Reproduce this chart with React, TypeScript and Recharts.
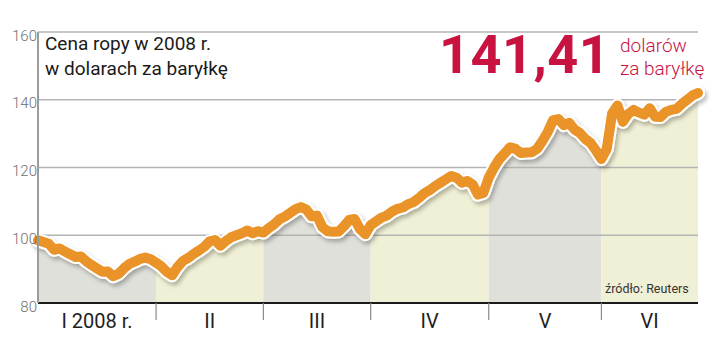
import {
  Area,
  ComposedChart,
  Line,
  ReferenceLine,
  XAxis,
  YAxis,
} from "recharts"

/* ---------- data (daily close, USD/bbl) ---------- */
const jan = [98.5, 98.0, 97.5, 95.7, 96.1, 95.2, 94.4, 93.6, 93.7, 92.3, 91.2, 90.2, 89.2, 89.3, 87.9, 88.6, 90.2, 91.5, 92.2, 93.0, 93.4, 92.9]
const feb = [91.9, 90.8, 89.2, 88.2, 90.6, 92.4, 93.3, 94.5, 95.5, 96.6, 98.2, 98.6, 96.9, 98.3, 99.4, 100.0, 100.6, 101.4, 100.6, 101.2]
const mar = [100.8, 102.1, 103.2, 104.7, 105.5, 106.6, 107.7, 108.3, 107.6, 105.6, 105.8, 102.4, 101.2, 101.0, 101.1, 102.6, 104.5, 104.8, 101.8, 100.3]
const apr = [103.0, 104.1, 105.2, 105.8, 107.0, 107.8, 108.2, 109.2, 109.8, 111.0, 112.4, 113.3, 114.5, 115.5, 116.5, 117.5, 117.0, 115.5, 116.0, 115.0, 112.0, 112.5]
const may = [117.0, 120.0, 122.5, 124.2, 126.0, 125.5, 124.3, 124.4, 124.5, 125.5, 127.8, 130.5, 134.0, 134.3, 132.5, 133.2, 131.2, 130.2, 128.4, 127.2, 125.0]
const jun = [122.5, 125.5, 136.0, 138.3, 133.5, 135.8, 137.0, 136.2, 135.6, 137.5, 135.0, 134.9, 136.4, 137.0, 137.3, 138.8, 140.0, 141.3, 142.0]

const months = [jan, feb, mar, apr, may, jun]
const monthLabels = ["I 2008 r.", "II", "III", "IV", "V", "VI"]
const yTicks = [80, 100, 120, 140, 160]
const gridLines = [100, 120, 140, 160]

const bandColors = ["#dfe0da", "#f0f0d6"]
const ORANGE = "#ea9329"
const RED = "#c8123f"

/* ---------- build rows ---------- */
const starts: number[] = []
const rows: Record<string, number | null>[] = []
months.forEach((m, k) => {
  starts.push(rows.length)
  m.forEach((v) => {
    const r: Record<string, number | null> = { i: rows.length, price: v }
    months.forEach((_, j) => (r[`m${j}`] = j === k ? v : null))
    rows.push(r)
  })
})
// close each month's area at the first point of the next month
starts.slice(1).forEach((s, k) => {
  rows[s][`m${k}`] = rows[s].price
})
const lastIdx = rows.length - 1
const boundaries = starts.slice(1)
const centers = starts.map((s, k) => (s + (k < starts.length - 1 ? starts[k + 1] : lastIdx)) / 2)

const font = "Roboto, 'Noto Sans', sans-serif"

function YTick({ y, payload }: any) {
  return (
    <text x={37} y={y + 8.5} textAnchor="end" fontSize={15} fill="#6f6f6f" fontFamily={font} fontWeight={300}>
      {payload.value}
    </text>
  )
}

function XTick({ x, y, payload }: any) {
  const v = payload.value
  const ci = centers.indexOf(v)
  if (ci >= 0) {
    return (
      <text x={x} y={y + 25} textAnchor="middle" fontSize={20} fill="#1e1e1e" fontFamily={font}>
        {monthLabels[ci]}
      </text>
    )
  }
  return <line x1={x} x2={x} y1={y} y2={y + 17} stroke="#8a8a8a" strokeWidth={1.2} />
}

export default function App() {
  return (
    <div style={{ position: "relative", width: 720, height: 348, background: "#fff", fontFamily: font }}>
      <style>{`body{margin:0}`}</style>
      <ComposedChart width={720} height={348} data={rows} margin={{ top: 32, right: 22, bottom: 0, left: 0 }}>
        <defs>
          <filter id="lineShadow" x="-10%" y="-10%" width="120%" height="130%">
            <feDropShadow dx="2" dy="3" stdDeviation="2" floodColor="#000" floodOpacity="0.28" />
          </filter>
        </defs>
        <XAxis
          dataKey="i"
          type="number"
          domain={[0, lastIdx]}
          ticks={[...boundaries, ...centers].sort((a, b) => a - b)}
          interval={0}
          height={45}
          tickSize={0}
          tickMargin={0}
          tickLine={false}
          axisLine={{ stroke: "#1a1a1a", strokeWidth: 2 }}
          tick={<XTick />}
        />
        <YAxis
          domain={[80, 160]}
          ticks={yTicks}
          width={38}
          tickLine={false}
          axisLine={{ stroke: "#9c9c9c", strokeWidth: 2 }}
          tick={<YTick />}
        />
        {months.map((_, k) => (
          <Area
            key={k}
            dataKey={`m${k}`}
            type="linear"
            stroke="none"
            fill={bandColors[k % 2]}
            fillOpacity={1}
            isAnimationActive={false}
            connectNulls={false}
          />
        ))}
        {gridLines.map((g) => (
          <ReferenceLine key={g} y={g} stroke="#b4b4b4" strokeWidth={1.5} />
        ))}
        <Line
          dataKey="price"
          type="linear"
          stroke="#ffffff"
          strokeWidth={14}
          strokeLinejoin="round"
          strokeLinecap="round"
          dot={false}
          filter="url(#lineShadow)"
          isAnimationActive={false}
        />
        <Line
          dataKey="price"
          type="linear"
          stroke={ORANGE}
          strokeWidth={10}
          strokeLinejoin="round"
          strokeLinecap="round"
          dot={false}
          isAnimationActive={false}
        />
      </ComposedChart>

      <div style={{ position: "absolute", left: 45, top: 31, fontSize: 19, lineHeight: "25px", color: "#1a1a1a" }}>
        Cena ropy w 2008 r.
        <br />
        w dolarach za baryłkę
      </div>
      <div
        style={{
          position: "absolute",
          left: 439,
          top: 25,
          fontSize: 54,
          fontWeight: 700,
          lineHeight: "60px",
          color: RED,
          letterSpacing: 0.5,
        }}
      >
        141,41
      </div>
      <div
        style={{
          position: "absolute",
          left: 620,
          top: 34,
          fontSize: 19,
          fontWeight: 300,
          lineHeight: "23px",
          color: RED,
        }}
      >
        dolarów
        <br />
        za baryłkę
      </div>
      <div style={{ position: "absolute", left: 605, top: 281, fontSize: 12.5, color: "#333", fontWeight: 400 }}>
        źródło: Reuters
      </div>
    </div>
  )
}
